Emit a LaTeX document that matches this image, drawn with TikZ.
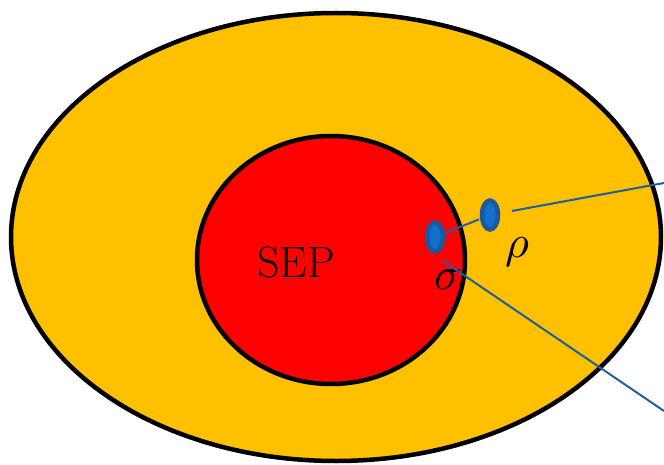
\documentclass[tikz,border=0pt]{standalone}
\usepackage{amsmath}
\usepackage{tikz}
\usetikzlibrary{shapes.geometric}

\definecolor{outerfill}{HTML}{FFC000}
\definecolor{sepfill}{HTML}{FF0000}
\definecolor{dotedge}{HTML}{1A5A9C}
\definecolor{dotfill}{HTML}{1070CC}
\definecolor{linkline}{HTML}{1F5F9A}

\begin{document}
\begin{tikzpicture}[
  x=1pt,
  y=-1pt,
  every node/.style={font=\fontsize{44}{48}\selectfont},
  greek/.style={font=\normalsize, scale=4.6},
  outerset/.style={draw=black, fill=outerfill, line width=4.5pt},
  sepset/.style={draw=black, fill=sepfill, line width=4.5pt},
  statedot/.style={ellipse, draw=dotedge, fill=dotfill, line width=4.5pt,
    minimum width=16pt, minimum height=29pt, inner sep=0pt},
  link/.style={draw=linkline, line width=2pt}
]
  \useasboundingbox (0,0) rectangle (664,465);
  \fill[white] (0,0) rectangle (664,465);

  \draw[outerset] (336,237) ellipse [x radius=325, y radius=224];
  \draw[sepset] (331,260) ellipse [x radius=134, y radius=124];

  \node (sep) at (296,262) {SEP};
  \node[statedot] (sigdot) at (435,237) {};
  \node[statedot] (rhodot) at (490,215) {};
  \node[greek] (rho) at (517,252) {$\rho$};
  \node[greek] (sigma) at (448,280) {$\sigma$};

  \coordinate (rhoend) at (664,183);
  \coordinate (sigstart) at (443,261);
  \coordinate (sigend) at (664,411);

  \draw[link, shorten <=1pt, shorten >=1pt] (sigdot) -- (rhodot);
  \draw[link, shorten <=12pt] (rhodot) -- (rhoend);
  \draw[link] (sigstart) -- (sigend);
\end{tikzpicture}
\end{document}
